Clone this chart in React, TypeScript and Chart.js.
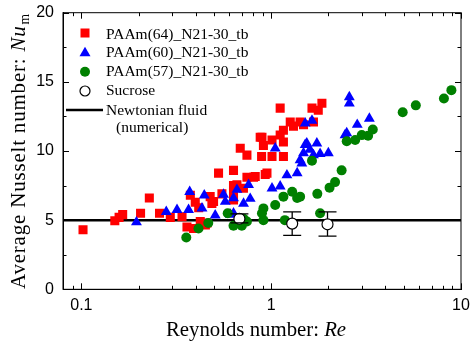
import React, { useEffect, useRef } from 'react';
import { Chart, registerables } from 'chart.js';

Chart.register(...registerables);

// PAAm(64)_N21-30_tb
const paam64Re = [0.102, 0.15, 0.158, 0.165, 0.205, 0.228, 0.258, 0.294, 0.339, 0.36, 0.39, 0.375, 0.398, 0.415, 0.423, 0.459, 0.45, 0.477, 0.487, 0.497, 0.528, 0.55, 0.633, 0.633, 0.633, 0.633, 0.66, 0.714, 0.687, 0.745, 0.745, 0.807, 0.824, 0.875, 0.894, 0.91, 0.93, 0.95, 0.89, 1.01, 1.01, 1.115, 1.115, 1.16, 1.16, 1.16, 1.26, 1.31, 1.42, 1.48, 1.67, 1.64, 1.77, 1.85];
const paam64Nu = [4.3, 4.95, 5.2, 5.4, 5.5, 6.6, 5.5, 5.2, 5.25, 4.5, 4.4, 6.8, 6.3, 5.9, 4.9, 4.8, 4.65, 6.7, 6.2, 6.35, 8.4, 6.9, 8.6, 7.5, 7.05, 6.45, 7.55, 7.3, 10.2, 9.7, 8.1, 8.1, 8.15, 11.0, 11.0, 10.4, 8.3, 8.4, 9.6, 9.6, 10.8, 11.15, 13.1, 11.5, 10.65, 9.6, 12.1, 11.8, 12.1, 11.9, 12.1, 13.1, 12.95, 13.45];

// PAAm(60)_N21-30_tb
const paam60Re = [0.195, 0.28, 0.319, 0.367, 0.372, 0.432, 0.444, 0.507, 0.561, 0.573, 0.609, 0.633, 0.633, 0.66, 0.715, 0.76, 0.775, 1.01, 1.115, 1.05, 1.21, 1.37, 1.42, 1.45, 1.48, 1.51, 1.54, 1.6, 1.67, 1.74, 1.81, 2.0, 1.51, 1.64, 2.45, 2.5, 2.58, 2.58, 2.84, 3.29];
const paam60Nu = [4.85, 5.6, 5.75, 5.75, 7.05, 5.85, 6.8, 5.35, 6.85, 6.35, 5.4, 5.5, 6.6, 7.2, 6.2, 7.55, 6.55, 7.3, 7.45, 10.2, 8.25, 8.4, 9.35, 9.1, 9.85, 10.45, 10.55, 10.1, 9.7, 10.55, 9.8, 9.85, 12.0, 12.2, 11.15, 11.3, 13.9, 13.45, 11.9, 12.35];

// PAAm(57)_N21-30_tb
const paam57Re = [0.357, 0.414, 0.466, 0.59, 0.633, 0.7, 0.715, 0.745, 0.894, 0.91, 0.91, 1.05, 1.16, 1.18, 1.29, 1.37, 1.42, 1.64, 1.75, 1.81, 2.03, 2.17, 2.35, 2.5, 2.77, 3.0, 3.24, 3.43, 4.93, 5.78, 8.13, 8.9];
const paam57Nu = [3.75, 4.4, 4.8, 5.5, 4.6, 4.6, 5.1, 4.9, 5.5, 5.0, 5.85, 6.1, 6.7, 5.0, 7.05, 6.6, 6.7, 9.3, 6.9, 5.5, 7.35, 7.75, 8.6, 10.7, 10.8, 11.15, 11.1, 11.55, 12.8, 13.3, 13.8, 14.4];

// Sucrose with error bars
const sucroseRe = [0.68, 1.29, 1.98];
const sucroseNu = [5.1, 4.75, 4.7];
const sucroseLow = [4.8, 3.9, 3.85];
const sucroseHigh = [5.45, 5.6, 5.6];

// Newtonian fluid (numerical)
const newtonianRe = [0.08, 10];
const newtonianNu = [5, 5];

const xMajorTicks = [0.1, 1, 10];
const xMinorTicks = [0.08, 0.09, 0.2, 0.3, 0.4, 0.5, 0.6, 0.7, 0.8, 0.9, 2, 3, 4, 5, 6, 7, 8, 9];
const yMajorTicks = [0, 5, 10, 15, 20];
const yMinorTicks = [2.5, 7.5, 12.5, 17.5];

const legendLabels = ['PAAm(64)_N21-30_tb', 'PAAm(60)_N21-30_tb', 'PAAm(57)_N21-30_tb', 'Sucrose', 'Newtonian fluid', '(numerical)'];

const RED = '#ff0000';
const BLUE = '#0000ff';
const GREEN = '#008000';
const SERIF = '"Liberation Serif", "Times New Roman", serif';
const SANS = '"Liberation Sans", Arial, sans-serif';

const zip = (xs: number[], ys: number[]) => xs.map((x, i) => ({ x, y: ys[i] }));

const framePlugin = {
  id: 'frame',
  beforeDatasetsDraw(chart: any) {
    const { ctx, chartArea: a, scales } = chart;
    const xs = scales.x;
    const ys = scales.y;
    ctx.save();
    ctx.strokeStyle = '#000';
    ctx.lineWidth = 1;
    ctx.strokeRect(a.left, a.top, a.right - a.left, a.bottom - a.top);
    const tick = (vals: number[], len: number, isX: boolean) => {
      vals.forEach((v) => {
        ctx.beginPath();
        if (isX) {
          const p = Math.round(xs.getPixelForValue(v)) + 0.5;
          ctx.moveTo(p, a.bottom); ctx.lineTo(p, a.bottom - len);
          ctx.moveTo(p, a.top); ctx.lineTo(p, a.top + len);
        } else {
          const p = Math.round(ys.getPixelForValue(v)) + 0.5;
          ctx.moveTo(a.left, p); ctx.lineTo(a.left + len, p);
          ctx.moveTo(a.right, p); ctx.lineTo(a.right - len, p);
        }
        ctx.stroke();
      });
    };
    tick(xMajorTicks, 6, true);
    tick(xMinorTicks, 3.5, true);
    tick(yMajorTicks, 6, false);
    tick(yMinorTicks, 3.5, false);
    ctx.restore();
  },
  afterDatasetsDraw(chart: any) {
    const { ctx, scales } = chart;
    const xs = scales.x;
    const ys = scales.y;
    const r = 5.5;
    ctx.save();
    ctx.strokeStyle = '#000';
    ctx.lineWidth = 1.3;
    sucroseRe.forEach((re, i) => {
      const px = xs.getPixelForValue(re);
      const pc = ys.getPixelForValue(sucroseNu[i]);
      const ph = ys.getPixelForValue(sucroseHigh[i]);
      const pl = ys.getPixelForValue(sucroseLow[i]);
      ctx.beginPath();
      if (ph < pc - r) { ctx.moveTo(px, ph); ctx.lineTo(px, pc - r); }
      if (pl > pc + r) { ctx.moveTo(px, pl); ctx.lineTo(px, pc + r); }
      ctx.moveTo(px - 9, ph); ctx.lineTo(px + 9, ph);
      ctx.moveTo(px - 9, pl); ctx.lineTo(px + 9, pl);
      ctx.stroke();
    });
    ctx.restore();
  },
  afterDraw(chart: any) {
    const { ctx } = chart;
    ctx.save();
    // legend
    const mx = 85;
    const tx = 106;
    ctx.font = `15.5px ${SERIF}`;
    ctx.textBaseline = 'alphabetic';
    ctx.textAlign = 'left';
    ctx.fillStyle = RED;
    ctx.fillRect(mx - 4.5, 33 - 4.5, 9, 9);
    ctx.fillStyle = BLUE;
    ctx.beginPath();
    ctx.moveTo(mx, 52.7 - 6);
    ctx.lineTo(mx + 5.5, 52.7 + 3.5);
    ctx.lineTo(mx - 5.5, 52.7 + 3.5);
    ctx.closePath();
    ctx.fill();
    ctx.fillStyle = GREEN;
    ctx.beginPath();
    ctx.arc(mx, 71.7, 5, 0, Math.PI * 2);
    ctx.fill();
    ctx.fillStyle = '#fff';
    ctx.strokeStyle = '#000';
    ctx.lineWidth = 1.2;
    ctx.beginPath();
    ctx.arc(mx, 91, 5, 0, Math.PI * 2);
    ctx.fill();
    ctx.stroke();
    ctx.lineWidth = 2.5;
    ctx.beginPath();
    ctx.moveTo(66, 110);
    ctx.lineTo(103, 110);
    ctx.stroke();
    ctx.fillStyle = '#000';
    const ly = [38.5, 57, 75.5, 95, 114.5, 132];
    legendLabels.forEach((t, i) => {
      ctx.fillText(t, i === 5 ? 116 : tx, ly[i]);
    });

    // x title
    const xf = 20.8;
    ctx.font = `${xf}px ${SERIF}`;
    const p1 = 'Reynolds number: ';
    const w1 = ctx.measureText(p1).width;
    ctx.font = `italic ${xf}px ${SERIF}`;
    const w2 = ctx.measureText('Re').width;
    const startX = 256 - (w1 + w2) / 2;
    ctx.font = `${xf}px ${SERIF}`;
    ctx.fillText(p1, startX, 336);
    ctx.font = `italic ${xf}px ${SERIF}`;
    ctx.fillText('Re', startX + w1, 336);

    // y title
    ctx.translate(25, 151);
    ctx.rotate(-Math.PI / 2);
    const fs = 21;
    try { (ctx as any).letterSpacing = '0.8px'; } catch (e) { /* ignore */ }
    ctx.font = `${fs}px ${SERIF}`;
    const q1 = 'Average Nusselt number: ';
    const wq1 = ctx.measureText(q1).width;
    ctx.font = `italic ${fs}px ${SERIF}`;
    const wq2 = ctx.measureText('Nu').width;
    ctx.font = `${fs * 0.65}px ${SERIF}`;
    const wq3 = ctx.measureText('m').width;
    const total = wq1 + wq2 + wq3 + 1;
    const sx = -total / 2;
    ctx.font = `${fs}px ${SERIF}`;
    ctx.fillText(q1, sx, 0);
    ctx.font = `italic ${fs}px ${SERIF}`;
    ctx.fillText('Nu', sx + wq1, 0);
    ctx.font = `${fs * 0.65}px ${SERIF}`;
    ctx.fillText('m', sx + wq1 + wq2 + 1, 4);
    ctx.restore();
  },
};

const noPad = (s: any) => {
  s.paddingLeft = 0;
  s.paddingRight = 0;
  s.paddingTop = 0;
  s.paddingBottom = 0;
};

export default function App() {
  const ref = useRef<HTMLCanvasElement | null>(null);
  useEffect(() => {
    if (!ref.current) return;
    const chart = new Chart(ref.current, {
      type: 'scatter',
      data: {
        datasets: [
          {
            label: 'Sucrose',
            data: zip(sucroseRe, sucroseNu),
            pointStyle: 'circle',
            pointRadius: 5.5,
            backgroundColor: '#ffffff',
            borderColor: '#000000',
            borderWidth: 1.2,
            order: 0,
          },
          {
            label: 'PAAm(57)_N21-30_tb',
            data: zip(paam57Re, paam57Nu),
            pointStyle: 'circle',
            pointRadius: 5,
            backgroundColor: GREEN,
            borderWidth: 0,
            order: 1,
          },
          {
            label: 'PAAm(60)_N21-30_tb',
            data: zip(paam60Re, paam60Nu),
            pointStyle: 'triangle',
            pointRadius: 6.3,
            backgroundColor: BLUE,
            borderWidth: 0,
            order: 2,
          },
          {
            label: 'PAAm(64)_N21-30_tb',
            data: zip(paam64Re, paam64Nu),
            pointStyle: 'rect',
            pointRadius: 6.4,
            backgroundColor: RED,
            borderWidth: 0,
            order: 3,
          },
          {
            label: 'Newtonian fluid (numerical)',
            data: zip(newtonianRe, newtonianNu),
            showLine: true,
            pointRadius: 0,
            borderColor: '#000',
            borderWidth: 2.5,
            order: 4,
          },
        ],
      },
      options: {
        animation: false,
        responsive: false,
        events: [],
        layout: { padding: { top: 12.7, right: 11, left: 0, bottom: 0 } },
        plugins: { legend: { display: false }, tooltip: { enabled: false } },
        scales: {
          x: {
            type: 'logarithmic',
            min: 0.08,
            max: 10,
            grid: { display: false, drawTicks: false },
            border: { display: true, color: '#000', width: 1 },
            afterBuildTicks: (s: any) => {
              s.ticks = xMajorTicks.map((v) => ({ value: v }));
            },
            afterFit: (s: any) => {
              s.height = 343 - 289.3;
              noPad(s);
            },
            ticks: {
              color: '#000',
              font: { family: SANS, size: 16 },
              padding: 7,
              maxRotation: 0,
              autoSkip: false,
              callback: (v: any) => String(v),
            },
          },
          y: {
            min: 0,
            max: 20,
            grid: { display: false, drawTicks: false },
            border: { display: true, color: '#000', width: 1 },
            afterBuildTicks: (s: any) => {
              s.ticks = yMajorTicks.map((v) => ({ value: v }));
            },
            afterFit: (s: any) => {
              s.width = 63;
              noPad(s);
            },
            ticks: {
              color: '#000',
              font: { family: SANS, size: 16 },
              padding: 9,
              callback: (v: any) => String(v),
            },
          },
        },
      },
      plugins: [framePlugin],
    });
    return () => chart.destroy();
  }, []);
  return (
    <div style={{ position: 'absolute', left: 0, top: 0, width: 472, height: 343 }}>
      <canvas ref={ref} width={472} height={343} style={{ display: 'block', width: 472, height: 343 }} />
    </div>
  );
}
